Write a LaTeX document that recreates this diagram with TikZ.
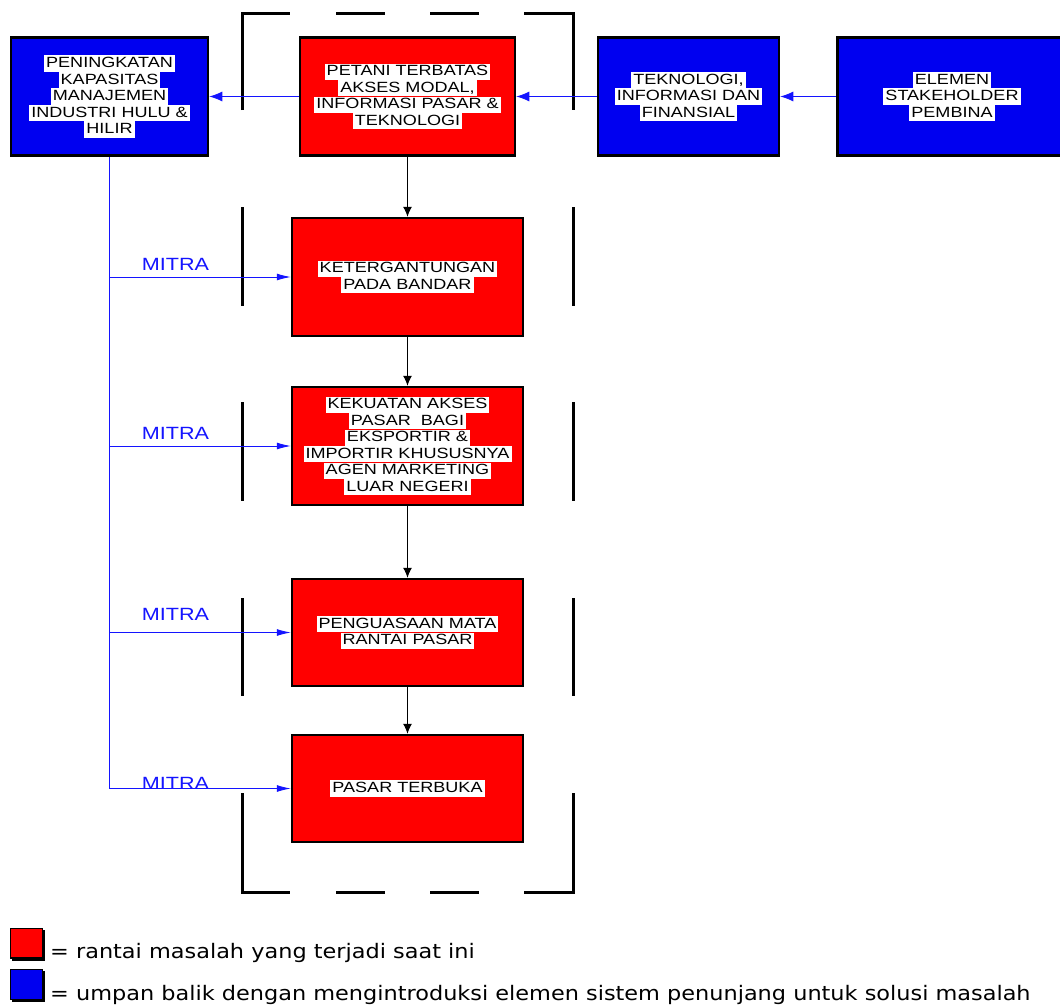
\documentclass[tikz,border=0pt]{standalone}
\usepackage{fontspec}
\usetikzlibrary{arrows.meta}
\newfontfamily\bxfont[FakeStretch=1.22]{Liberation Sans}
\newfontfamily\lgfont[FakeStretch=1.12]{DejaVu Sans}
\definecolor{boxred}{RGB}{255,0,0}
\definecolor{boxblue}{RGB}{0,0,240}
\definecolor{lnblue}{RGB}{20,20,255}
\newcommand\hl[1]{{\setlength\fboxsep{0pt}\colorbox{white}{\rule[-4.2pt]{0pt}{16.4pt}\hspace{2pt}#1\hspace{2pt}}}}
\tikzset{
  box/.style={draw=black, line width=2.5pt, rectangle, inner sep=0pt, align=center,
    font=\bxfont\fontsize{14.8pt}{16.5pt}\selectfont},
  redbox/.style={box, fill=boxred},
  bluebox/.style={box, fill=boxblue},
  barline/.style={line width=3pt, black},
  fb/.style={lnblue, line width=0.9pt, -{Latex[length=13pt,width=10pt]}},
  mitra/.style={lnblue, line width=0.9pt, -{Latex[length=14pt,width=7pt]}},
  chain/.style={black, line width=0.9pt, -{Latex[length=10pt,width=9pt]}},
  mlabel/.style={anchor=base, inner sep=0pt, text=lnblue, font=\bxfont\fontsize{17.7pt}{20pt}\selectfont},
  legend/.style={anchor=base west, inner sep=0pt, font=\lgfont\fontsize{20pt}{24pt}\selectfont}
}
\begin{document}
\begin{tikzpicture}[x=1pt,y=-1pt]
\useasboundingbox (0,0) rectangle (1060,1007);
\clip (0,0) rectangle (1060,1007);

% top row
\node[bluebox, minimum width=197pt, minimum height=118pt] (b1) at (109.5,96.5)
  {\hl{PENINGKATAN}\\\hl{KAPASITAS}\\\hl{MANAJEMEN}\\\hl{INDUSTRI HULU \&}\\\hl{HILIR}};
\node[redbox, minimum width=215pt, minimum height=118pt] (r1) at (407.5,96.5)
  {\hl{PETANI TERBATAS}\\\hl{AKSES MODAL,}\\\hl{INFORMASI PASAR \&}\\\hl{TEKNOLOGI}};
\node[bluebox, minimum width=181pt, minimum height=118pt] (b3) at (688.5,96.5)
  {\hl{TEKNOLOGI,}\\\hl{INFORMASI DAN}\\\hl{FINANSIAL}};
\node[bluebox, minimum width=229pt, minimum height=118pt] (b4) at (952,96.5)
  {\hl{ELEMEN}\\\hl{STAKEHOLDER}\\\hl{PEMBINA}};

% red chain
\node[redbox, minimum width=231pt, minimum height=118pt] (r2) at (407.5,277)
  {\hl{KETERGANTUNGAN}\\\hl{PADA BANDAR}};
\node[redbox, minimum width=231pt, minimum height=118pt] (r3) at (407.5,446)
  {\hl{KEKUATAN AKSES}\\\hl{PASAR \ BAGI}\\\hl{EKSPORTIR \&}\\\hl{IMPORTIR KHUSUSNYA}\\\hl{AGEN MARKETING}\\\hl{LUAR NEGERI}};
\node[redbox, minimum width=231pt, minimum height=107pt] (r4) at (407.5,632.5)
  {\hl{PENGUASAAN MATA}\\\hl{RANTAI PASAR}};
\node[redbox, minimum width=231pt, minimum height=107pt] (r5) at (407.5,788.5)
  {\hl{PASAR TERBUKA}};

% brackets
\draw[barline] (242,110) -- (242,13) -- (290,13);
\draw[barline] (336,13) -- (385,13);
\draw[barline] (430,13) -- (479,13);
\draw[barline] (524,13) -- (573,13) -- (573,110);
\draw[barline] (242,207) -- (242,306);
\draw[barline] (573,207) -- (573,306);
\draw[barline] (242,402) -- (242,501);
\draw[barline] (573,402) -- (573,501);
\draw[barline] (242,598) -- (242,696);
\draw[barline] (573,598) -- (573,696);
\draw[barline] (242,793) -- (242,892) -- (290,892);
\draw[barline] (336,892) -- (385,892);
\draw[barline] (430,892) -- (479,892);
\draw[barline] (524,892) -- (573,892) -- (573,793);

% feedback arrows
\draw[fb] (b4.west) -- (b3.east);
\draw[fb] (b3.west) -- (r1.east);
\draw[fb] (r1.west) -- (b1.east);

% chain arrows
\draw[chain] (r1.south) -- (r2.north);
\draw[chain] (r2.south) -- (r3.north);
\draw[chain] (r3.south) -- (r4.north);
\draw[chain] (r4.south) -- (r5.north);

% mitra
\draw[mitra] (b1.south) |- (r5.west);
\draw[mitra] (b1.south |- r2.west) -- (r2.west);
\draw[mitra] (b1.south |- r3.west) -- (r3.west);
\draw[mitra] (b1.south |- r4.west) -- (r4.west);
\node[mlabel] (m2) at (175.5,270.5) {MITRA};
\node[mlabel] (m3) at (175.5,439.5) {MITRA};
\node[mlabel] (m4) at (175.5,620) {MITRA};
\node[mlabel] (m5) at (175.5,789) {MITRA};

% legend
\fill[black] (12,930) rectangle (45,961);
\draw[fill=boxred, draw=black, line width=1.5pt] (10.5,928.5) rectangle (42.5,958);
\fill[black] (12,971) rectangle (45,1002);
\draw[fill=boxblue, draw=black, line width=1.5pt] (10.5,969.5) rectangle (42.5,999.5);
\node[legend] (l1) at (50,958) {= rantai masalah yang terjadi saat ini};
\node[legend] (l2) at (50,1000.5) {= umpan balik dengan mengintroduksi elemen sistem penunjang untuk solusi masalah};
\end{tikzpicture}
\end{document}
